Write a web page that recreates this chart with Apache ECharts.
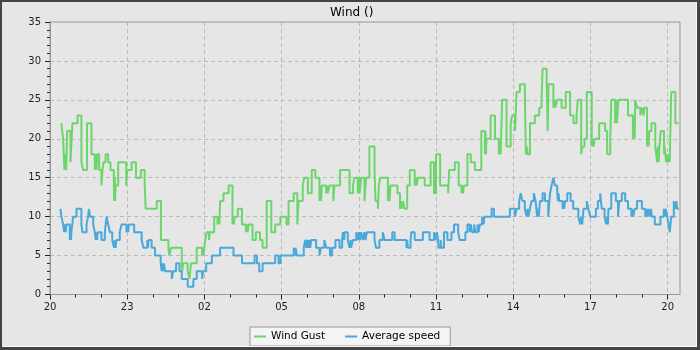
<!DOCTYPE html>
<html><head><meta charset="utf-8">
<script src="https://cdn.jsdelivr.net/npm/echarts@6/dist/echarts.min.js"></script>
<style>html,body{margin:0;padding:0;background:#e6e6e6}#c{width:700px;height:350px}</style>
</head><body><div id="c"></div>
<script>
// hours after 20:00 (start of axis)
const gustHours = [0.445,0.47,0.51,0.535,0.56,0.60,0.63,0.665,0.795,0.87,1.07,1.22,1.29,1.44,1.61,1.74,1.78,1.81,1.83,1.91,2.0,2.04,2.08,2.16,2.26,2.35,2.48,2.49,2.52,2.53,2.55,2.65,2.96,3.0,3.17,3.34,3.53,3.68,3.72,4.15,4.31,4.60,4.64,4.70,5.12,5.14,5.17,5.35,5.42,5.48,5.70,5.91,5.93,5.96,6.03,6.09,6.18,6.21,6.38,6.51,6.54,6.58,6.61,6.74,6.94,7.09,7.12,7.15,7.17,7.30,7.46,7.61,7.65,7.68,7.72,7.87,8.0,8.16,8.26,8.42,8.60,8.75,8.95,9.19,9.27,9.47,9.61,9.66,9.82,9.88,10.02,10.17,10.31,10.47,10.50,10.53,10.56,10.73,10.77,10.79,10.86,11.01,11.05,11.27,11.64,11.77,11.83,11.96,12.0,12.03,12.09,12.22,12.28,12.41,12.61,12.65,12.74,12.78,12.83,13.13,13.17,13.19,13.23,13.50,13.60,13.64,13.66,13.72,13.78,13.88,13.98,14.17,14.21,14.24,14.30,14.56,14.79,14.92,15.0,15.16,15.47,15.51,15.73,15.88,15.99,16.03,16.05,16.08,16.22,16.35,16.51,16.76,16.90,16.92,16.94,16.96,17.12,17.29,17.44,17.48,17.51,17.57,17.74,17.90,17.96,18.07,18.13,18.26,18.45,18.49,18.53,18.56,18.65,18.84,19.01,19.10,19.14,19.30,19.34,19.37,19.56,19.61,19.64,19.71,19.88,20.04,20.21,20.34,20.46,20.51,20.64,20.69,20.77,20.86,21.05,21.09,21.12,21.16,21.34,21.57,21.65,21.77,21.81,21.96,22.0,22.03,22.09,22.46,22.65,22.69,22.72,22.74,22.81,22.94,23.0,23.07,23.09,23.20,23.24,23.26,23.29,23.37,23.52,23.59,23.62,23.65,23.68,23.73,23.86,23.88,23.94,23.98,24.0,24.04,24.08,24.14,24.30,24.43];
const gustSpeed = [22,21,20,18,16,18,16,21,17,22,23,17,16,22,18,16,18,16,18,16,14,16,17,18,17,16,15,12,15,12,14,17,14,16,17,15,16,14,11,12,7,6,5,6,4,3,4,3,2,4,6,5,6,5,7,8,7,8,10,9,10,9,12,13,14,9,10,9,10,11,9,8,9,8,9,7,8,7,6,12,8,9,10,9,12,13,9,12,14,15,13,16,15,12,14,12,14,13,14,13,14,12,14,16,13,14,15,13,15,13,15,12,15,19,16,12,11,14,15,12,14,12,14,13,11,12,11,12,11,14,16,14,15,14,15,14,17,13,18,14,13,16,17,14,13,14,13,14,18,17,16,21,18,21,18,20,23,20,18,20,18,25,19,22,23,21,26,27,26,18,19,18,22,23,24,25,29,27,21,27,24,25,24,25,24,26,23,22,23,25,18,19,20,26,19,20,19,20,22,21,18,20,25,22,25,22,25,23,20,23,20,25,24,23,24,23,24,19,21,19,21,22,19,17,19,17,19,21,18,19,17,18,17,18,17,26,22,22];
const avgHours = [0.405,0.445,0.51,0.55,0.59,0.61,0.64,0.77,0.79,0.82,0.83,0.90,1.03,1.22,1.26,1.42,1.48,1.51,1.56,1.68,1.74,1.78,1.81,1.83,1.85,2.0,2.13,2.20,2.26,2.33,2.42,2.49,2.52,2.55,2.58,2.71,2.78,2.97,3.01,3.04,3.06,3.27,3.56,3.63,3.78,3.81,3.83,3.95,4.08,4.30,4.34,4.37,4.40,4.43,4.47,4.73,4.79,4.90,5.03,5.12,5.35,5.57,5.70,5.91,5.95,6.07,6.29,6.61,7.13,7.46,7.95,8.04,8.13,8.26,8.75,8.88,8.96,9.47,9.51,9.54,9.60,9.86,9.92,9.96,10.0,10.04,10.08,10.11,10.15,10.34,10.47,10.53,10.66,10.73,10.88,10.96,11.09,11.25,11.35,11.38,11.43,11.45,11.57,11.64,11.68,11.70,11.77,11.90,11.96,12.0,12.05,12.09,12.16,12.22,12.26,12.31,12.61,12.67,12.80,12.93,13.0,13.30,13.39,13.85,13.88,13.91,14.01,14.04,14.17,14.49,14.75,14.92,14.97,15.03,15.08,15.10,15.18,15.21,15.31,15.44,15.60,15.70,15.86,15.92,16.14,16.22,16.31,16.35,16.40,16.48,16.53,16.61,16.66,16.70,16.79,16.85,16.88,17.16,17.25,17.87,18.07,18.13,18.23,18.29,18.36,18.45,18.52,18.56,18.59,18.65,18.71,18.80,18.87,18.93,18.97,18.99,19.04,19.14,19.23,19.36,19.43,19.49,19.56,19.62,19.71,19.74,19.76,19.79,19.92,19.95,19.98,20.01,20.10,20.23,20.33,20.53,20.60,20.64,20.68,20.73,20.86,20.92,20.99,21.21,21.29,21.38,21.44,21.55,21.61,21.65,21.68,21.70,21.81,21.99,22.07,22.12,22.22,22.35,22.46,22.59,22.62,22.66,22.72,22.81,23.0,23.13,23.17,23.21,23.26,23.31,23.35,23.39,23.50,23.72,23.85,23.89,23.92,23.98,24.04,24.08,24.14,24.24,24.30,24.34,24.37,24.43];
const avgSpeed = [11,10,9,8,9,8,9,7,8,7,8,10,11,9,8,9,10,11,10,9,8,7,8,7,8,7,8,10,9,8,7,6,7,6,7,8,9,8,9,8,9,8,7,6,7,6,7,6,5,4,3,4,3,4,3,2,3,4,3,2,1,2,3,2,3,4,5,6,5,4,5,4,3,4,5,4,5,6,5,6,5,6,7,6,7,6,7,6,7,6,5,6,7,6,5,6,7,6,7,8,7,8,7,6,7,6,7,8,7,8,7,8,7,8,7,8,7,6,7,8,7,8,7,6,7,6,7,8,7,8,7,8,7,8,7,6,7,6,8,7,8,9,8,7,8,9,8,9,8,9,8,9,8,9,10,9,10,11,10,11,10,11,12,13,12,11,10,11,10,11,12,13,12,10,11,10,12,13,12,10,13,14,15,14,13,12,13,12,11,12,11,12,13,12,11,10,9,10,9,11,12,11,10,11,12,13,11,10,9,10,9,11,13,12,10,12,13,12,11,10,11,10,11,12,11,10,11,10,11,10,11,10,9,10,11,10,11,10,9,8,10,12,11,12,11,11];
const xTickHours = [0,3,6,9,12,15,18,21,24];
const yTicks = [0,5,10,15,20,25,30,35];

const zip = (a,b) => a.map((t,i) => [t,b[i]]);
const minorHours = [];
for (let h = 1; h < 24; h++) if (h % 3) minorHours.push(h);
const pad = v => String(v).padStart(2,'0');
const font = 'DejaVu Sans';

const chart = echarts.init(document.getElementById('c'), null, {renderer:'canvas'});
chart.setOption({
  backgroundColor: '#e6e6e6',
  animation: false,
  title: { text: 'Wind ()', left: 325, top: 2,
    textStyle: { fontFamily: font, fontSize: 12, fontWeight: 'normal', color: '#000' } },
  legend: {
    left: 250, top: 327, itemWidth: 12, itemHeight: 2, itemGap: 20,
    icon: 'rect', padding: [4, 10, 4, 4],
    backgroundColor: '#f4f4f4', borderColor: '#999', borderWidth: 1, borderRadius: 0,
    textStyle: { fontFamily: font, fontSize: 10.5, color: '#000' },
    data: ['Wind Gust', 'Average speed']
  },
  grid: { left: 50, right: 20, top: 22, bottom: 55.5, show: true, borderColor: '#999', borderWidth: 1,
    backgroundColor: 'transparent', outerBoundsMode: 'none' },
  xAxis: [{
    type: 'value', min: 0, max: 24.48,
    axisLine: { lineStyle: { color: '#999' } },
    axisTick: { customValues: xTickHours, length: 5, lineStyle: { color: '#222' } },
    axisLabel: { customValues: xTickHours, margin: 8, fontFamily: font, fontSize: 10, color: '#222',
      formatter: v => pad((20 + Math.round(v)) % 24) },
    splitLine: { show: true, lineStyle: { color: '#bbb', type: [4, 3] } }
  }, {
    type: 'value', min: 0, max: 24.48, position: 'bottom',
    axisLine: { show: false },
    axisTick: { customValues: minorHours, length: 3, lineStyle: { color: '#222' } },
    axisLabel: { show: false }, splitLine: { show: false }
  }],
  yAxis: {
    type: 'value', min: 0, max: 35, interval: 5,
    axisLine: { show: true, lineStyle: { color: '#999' } },
    axisTick: { show: true, length: 5, lineStyle: { color: '#222' } },
    minorTick: { show: true, splitNumber: 5, length: 3, lineStyle: { color: '#222' } },
    axisLabel: { margin: 9, fontFamily: font, fontSize: 10, color: '#222' },
    splitLine: { show: true, lineStyle: { color: '#bbb', type: [4, 3] } }
  },
  series: [{
    name: 'Wind Gust', type: 'line', step: 'end', showSymbol: false, symbol: 'none',
    data: zip(gustHours, gustSpeed), color: '#6cd66c', lineStyle: { width: 2, color: '#6cd66c' }
  }, {
    name: 'Average speed', type: 'line', step: 'end', showSymbol: false, symbol: 'none',
    data: zip(avgHours, avgSpeed), color: '#4aa8da', lineStyle: { width: 2, color: '#4aa8da' }
  }],
  graphic: [
    { type: 'rect', z: 100, shape: { x: 0, y: 0, width: 700, height: 2 }, style: { fill: '#444' } },
    { type: 'rect', z: 100, shape: { x: 0, y: 0, width: 2, height: 350 }, style: { fill: '#444' } },
    { type: 'rect', z: 100, shape: { x: 0, y: 347, width: 700, height: 3 }, style: { fill: '#444' } },
    { type: 'rect', z: 100, shape: { x: 697, y: 0, width: 3, height: 350 }, style: { fill: '#444' } },
    { type: 'rect', z: 100, shape: { x: 2, y: 346, width: 695, height: 1 }, style: { fill: '#fafafa' } },
    { type: 'rect', z: 100, shape: { x: 696, y: 2, width: 1, height: 345 }, style: { fill: '#fafafa' } }
  ]
});
</script></body></html>
